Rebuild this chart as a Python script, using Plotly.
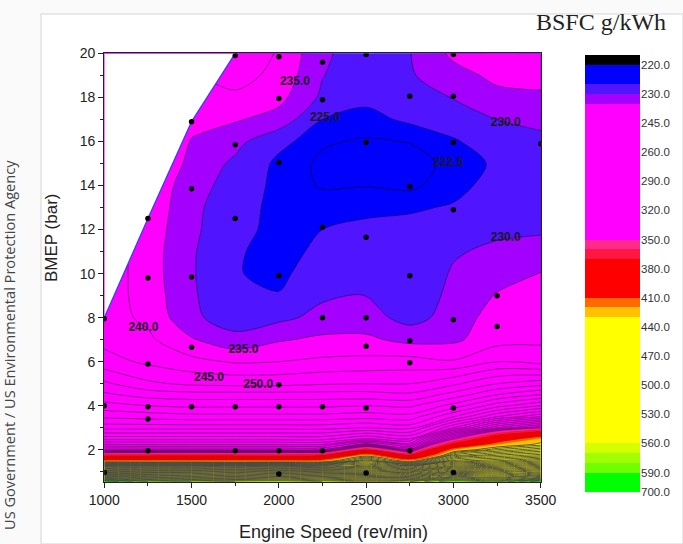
import plotly.graph_objects as go

W, H = 683, 544

# ---------------------------------------------------------------- data
speed_rpm = [1000, 1250, 1500, 1750, 2000, 2250, 2500, 2750, 3000, 3250, 3500]
bmep_bar = [0.55, 0.75, 1.0, 1.25, 1.5, 1.75, 2.0, 2.25, 2.5, 3.0, 3.5, 4.0, 4.5, 5.0,
            6.0, 7.0, 8.0, 9.0, 10.0, 11.0, 12.0, 13.0, 14.0, 15.0, 16.0, 17.0,
            18.0, 19.0, 20.0]

# BSFC (g/kWh) along the BMEP rows, one list per engine speed
bsfc_1000 = [600, 565, 520, 478, 418, 366, 325, 310, 298, 283, 274, 267, 261, 256,
             247, 243.5, 242, 242.5, 243, 243, 243, 243, 243, 243, 243, 243, 243, 243, 243]
bsfc_1250 = [585, 555, 515, 475, 418, 366, 325, 309, 298, 283, 273, 265, 258, 251,
             244, 241, 239, 238, 237.5, 237.5, 238, 239, 240, 241, 241, 241, 241, 241, 241]
bsfc_1500 = [580, 550, 515, 475, 418, 367, 325, 309, 298, 283, 272, 264, 257, 249,
             241.5, 235.5, 231, 230.6, 230.5, 230.6, 231, 231, 231.5, 233.5, 234.7, 236.5,
             238, 239.5, 241]
bsfc_1750 = [575, 545, 510, 472, 418, 366, 325, 309, 298, 283, 272, 264, 257, 248.5,
             239.5, 231.5, 227.5, 226.5, 225.2, 225.4, 226.5, 227.5, 228.5, 229, 231.5,
             235.5, 239, 242, 244]
bsfc_2000 = [575, 550, 515, 475, 418, 366, 325, 309, 298, 283, 272, 264, 257, 248.5,
             240, 234.5, 228.8, 225.2, 224.2, 223.8, 223.6, 223.3, 223.5, 224.0, 226.2,
             233, 236.5, 238.5, 239.5]
bsfc_2250 = [570, 545, 510, 470, 420, 370, 326, 309, 298, 283, 272, 264, 257, 249.5,
             241, 236, 231.5, 229.3, 227, 225.8, 225, 223.5, 222.3, 222, 222.8, 225,
             229, 230.2, 231]
bsfc_2500 = [565, 540, 510, 480, 455, 425, 370, 328, 305, 285, 273, 265, 257, 250,
             241.5, 236, 232, 230.1, 228.5, 227.5, 226, 224, 222.4, 221.8, 222.2, 224,
             225.8, 226.5, 227]
bsfc_2750 = [570, 540, 505, 470, 422, 372, 332, 312, 300, 283, 272, 264, 256, 250,
             242, 233.5, 228.2, 227, 226.5, 226.3, 226, 224.6, 221.9, 221.5, 222.6,
             225.6, 228, 229.5, 229.8]
bsfc_3000 = [585, 560, 530, 500, 472, 448, 420, 375, 345, 305, 285, 272, 262, 254,
             240.5, 234, 232, 231.2, 230.5, 229.5, 227.5, 225.3, 224, 223.2, 224.5,
             227.5, 230.2, 233, 236.2]
bsfc_3250 = [580, 555, 530, 505, 480, 460, 440, 420, 390, 330, 300, 283, 270, 260,
             245, 238, 237.5, 235.4, 233, 231, 229, 227.3, 226.2, 225.6, 227.5, 230,
             233.5, 236.3, 238]
bsfc_3500 = [600, 570, 540, 515, 490, 468, 450, 432, 425, 345, 310, 290, 275, 263,
             243, 239, 237, 235.8, 235.2, 231.5, 229.5, 228, 227.5, 227.5, 229, 231,
             234.5, 236, 237]

# full-load (maximum BMEP) limit
full_load_speed = [1000, 1250, 1500, 1750]
full_load_bmep = [8.0, 12.5, 16.9, 20.0]

# measured operating points
point_speed = [1750, 2000, 2250, 2500, 3000,
               2000, 2250, 2750, 3000,
               1500,
               1750, 2500, 3000, 3500,
               2000,
               1500, 2750,
               3000,
               1250, 1750,
               2250,
               2500,
               1250, 1500, 2000, 2750,
               3250,
               1000, 2250, 2500, 3000,
               3250,
               2750,
               1500, 2500,
               1250, 2750,
               2000,
               1000, 1250, 1500, 1750, 2000, 2250, 2500, 3000,
               1250,
               1250, 1750, 2000, 2250, 2750,
               1000, 2000, 2500, 3000]
point_bmep = [19.9, 19.85, 19.6, 19.95, 19.95,
              17.95, 17.9, 18.05, 18.05,
              16.9,
              15.85, 15.95, 15.95, 15.9,
              15.05,
              13.85, 13.95,
              12.9,
              12.5, 12.5,
              12.1,
              11.65,
              9.8, 9.85, 9.9, 9.9,
              9.0,
              7.95, 8.0, 8.0, 7.9,
              7.6,
              6.95,
              6.65, 6.7,
              5.9, 5.95,
              4.95,
              4.0, 3.95, 3.95, 3.95, 3.95, 3.95, 3.9, 3.9,
              3.4,
              1.95, 1.95, 1.95, 1.95, 1.95,
              0.97, 0.9, 0.95, 0.97]

# in-plot contour labels
label_level = [235, 225, 222.5, 230, 230, 240, 235, 245, 250]
label_speed = [2092, 2264, 2971, 3300, 3300, 1224, 1797, 1600, 1882]
label_bmep = [18.72, 17.06, 15.02, 16.83, 11.61, 7.53, 6.53, 5.25, 4.92]

# colour legend levels
legend_levels = [220, 230, 245, 260, 290, 320, 350, 380, 410, 440, 470, 500, 530,
                 560, 590, 700]

# ---------------------------------------------------------------- styling
fill_bounds = [225, 230, 235, 350, 360, 370, 410, 420, 430, 560, 570, 580, 590]
fill_colors = ["#0000ff", "#5014ff", "#a400ff", "#ff00ff", "#ff2a8c", "#ff1744",
               "#ff0000", "#ff6a00", "#ffc000", "#ffff00", "#d4ff00", "#a0ff00",
               "#70ff00", "#00ff00"]
legend_runs = [("#000000", 1), ("#0000ff", 2), ("#5014ff", 1), ("#a400ff", 1),
               ("#ff00ff", 14), ("#ff2a8c", 1), ("#ff1744", 1), ("#ff0000", 4),
               ("#ff6a00", 1), ("#ffc000", 1), ("#ffff00", 13), ("#d4ff00", 1),
               ("#a0ff00", 1), ("#70ff00", 1), ("#00ff00", 2)]

LEVEL_START, LEVEL_END, LEVEL_STEP = 220.0, 700.0, 2.5
n_levels = int((LEVEL_END - LEVEL_START) / LEVEL_STEP) + 1


def px_x(px):
    return px / W


def px_y(py):
    return 1 - py / H


def level_frac(v):
    # position of a value on the contour colour scale
    return ((v - LEVEL_START) / LEVEL_STEP + 0.5) / n_levels


fill_scale = [[0.0, fill_colors[0]]]
for t, c_lo, c_hi in zip(fill_bounds, fill_colors[:-1], fill_colors[1:]):
    f = level_frac(t)
    fill_scale.append([f, c_lo])
    fill_scale.append([f, c_hi])
fill_scale.append([1.0, fill_colors[-1]])

columns = [bsfc_1000, bsfc_1250, bsfc_1500, bsfc_1750, bsfc_2000, bsfc_2250,
           bsfc_2500, bsfc_2750, bsfc_3000, bsfc_3250, bsfc_3500]
z = [[col[i] for col in columns] for i in range(len(bmep_bar))]

SMOOTH = 0.9
fig = go.Figure()

# filled bands
fig.add_trace(go.Contour(
    x=speed_rpm, y=bmep_bar, z=z, autocontour=False,
    contours=dict(start=LEVEL_START, end=LEVEL_END, size=LEVEL_STEP,
                  coloring="fill", showlines=False),
    colorscale=fill_scale, showscale=False,
    line=dict(width=0, smoothing=SMOOTH), hoverinfo="skip"))


def iso_lines(start, end, size, color, width):
    return go.Contour(
        x=speed_rpm, y=bmep_bar, z=z, autocontour=False,
        contours=dict(start=start, end=end, size=size, coloring="none"),
        line=dict(color=color, width=width, smoothing=SMOOTH),
        showscale=False, hoverinfo="skip")


# iso-lines: 222.5 island, 5 g/kWh steps in the magenta field,
# sparser through the red band, dense in the low-load yellow field
fig.add_trace(iso_lines(222.5, 222.5, 5, "rgba(0,0,0,0.8)", 0.7))
fig.add_trace(iso_lines(225, 345, 5, "rgba(0,0,0,0.72)", 0.6))
fig.add_trace(iso_lines(350, 420, 10, "rgba(90,0,0,0.35)", 0.5))
fig.add_trace(iso_lines(430, LEVEL_END, 5, "rgba(70,70,70,0.9)", 1.0))

# blank out the region above the full-load limit
x_lo, x_hi = speed_rpm[0], speed_rpm[-1]
y_lo, y_hi = bmep_bar[0], bmep_bar[-1]
fig.add_trace(go.Scatter(
    x=full_load_speed + [x_lo, full_load_speed[0]],
    y=full_load_bmep + [y_hi, full_load_bmep[0]],
    mode="lines", fill="toself", fillcolor="white",
    line=dict(width=0, color="white"), hoverinfo="skip"))
fig.add_trace(go.Scatter(
    x=full_load_speed, y=full_load_bmep, mode="lines",
    line=dict(color="#3b3bff", width=1.3), hoverinfo="skip"))

# operating points
fig.add_trace(go.Scatter(
    x=point_speed, y=point_bmep, mode="markers",
    marker=dict(size=5.5, color="black"), hoverinfo="skip"))

# contour value labels
fig.add_trace(go.Scatter(
    x=label_speed, y=label_bmep, mode="text",
    text=[f"{v:.1f}" for v in label_level],
    textfont=dict(family="Liberation Sans", size=12, color="#1a1a1a", weight="bold"),
    hoverinfo="skip"))

# colour legend bar
band_colors = []
for color, n in legend_runs:
    band_colors += [color] * n
nb = len(band_colors)
cb_scale = []
for i, c in enumerate(band_colors):
    cb_scale += [[i / nb, c], [(i + 1) / nb, c]]
fig.add_trace(go.Heatmap(
    x=[0], y=[i + 0.5 for i in range(nb)], z=[[i] for i in range(nb)],
    zmin=-0.5, zmax=nb - 0.5, colorscale=cb_scale, showscale=False,
    xaxis="x2", yaxis="y2", hoverinfo="skip"))

legend_tickvals = [1 + 3 * k for k in range(len(legend_levels) - 1)] + [nb]

axis_font = dict(family="Liberation Sans", size=14, color="#222")
fig.update_layout(
    width=W, height=H, autosize=False,
    margin=dict(l=0, r=0, t=0, b=0),
    paper_bgcolor="#fafafa", plot_bgcolor="white",
    showlegend=False,
    xaxis=dict(domain=[px_x(104.3), px_x(540.7)], range=[x_lo, x_hi],
               tickvals=[1000, 1500, 2000, 2500, 3000, 3500],
               ticks="outside", ticklen=5, tickcolor="#222", tickfont=axis_font,
               minor=dict(dtick=250, ticks="outside", ticklen=3, tickcolor="#222"),
               showline=True, linecolor="#222", linewidth=1.2, mirror=True,
               showgrid=False, zeroline=False, automargin=False),
    yaxis=dict(domain=[px_y(481.7), px_y(53.4)], range=[y_lo, y_hi],
               tick0=0, dtick=2, ticks="outside", ticklen=5, tickcolor="#222",
               tickfont=axis_font,
               minor=dict(dtick=1, ticks="outside", ticklen=3, tickcolor="#222"),
               showline=True, linecolor="#222", linewidth=1.2, mirror=True,
               showgrid=False, zeroline=False, automargin=False),
    xaxis2=dict(domain=[px_x(585), px_x(640)], range=[-0.5, 0.5], visible=False,
                anchor="y2"),
    yaxis2=dict(domain=[px_y(492), px_y(55)], range=[nb, 0], anchor="x2",
                side="right", tickvals=legend_tickvals,
                ticktext=[f"{v:.1f}" for v in legend_levels],
                ticks="", showline=False, showgrid=False, zeroline=False,
                tickfont=dict(family="Liberation Sans", size=11.5, color="#333"),
                automargin=False),
    shapes=[dict(type="rect", xref="paper", yref="paper",
                 x0=px_x(41), x1=1.0, y0=0.0, y1=px_y(14),
                 fillcolor="white", line=dict(color="#e2e2e2", width=1.5),
                 layer="below")],
    annotations=[
        dict(text="BSFC g/kWh", x=px_x(601), y=px_y(22), xref="paper", yref="paper",
             xanchor="center", yanchor="middle", showarrow=False,
             font=dict(family="Liberation Serif", size=24, color="#222")),
        dict(text="Engine Speed (rev/min)", x=px_x(333), y=px_y(532),
             xref="paper", yref="paper", xanchor="center", yanchor="middle",
             showarrow=False,
             font=dict(family="Liberation Sans", size=18, color="#222")),
        dict(text="BMEP (bar)", x=px_x(51), y=px_y(238), xref="paper", yref="paper",
             xanchor="center", yanchor="middle", textangle=-90, showarrow=False,
             font=dict(family="Liberation Sans", size=17, color="#222")),
        dict(text="US Government / US Environmental Protection Agency",
             x=px_x(9), y=px_y(345), xref="paper", yref="paper", textangle=-90,
             xanchor="center", yanchor="middle", showarrow=False,
             font=dict(family="Open Sans", size=14.6, color="#444")),
    ],
)

fig.write_html("out.html")
